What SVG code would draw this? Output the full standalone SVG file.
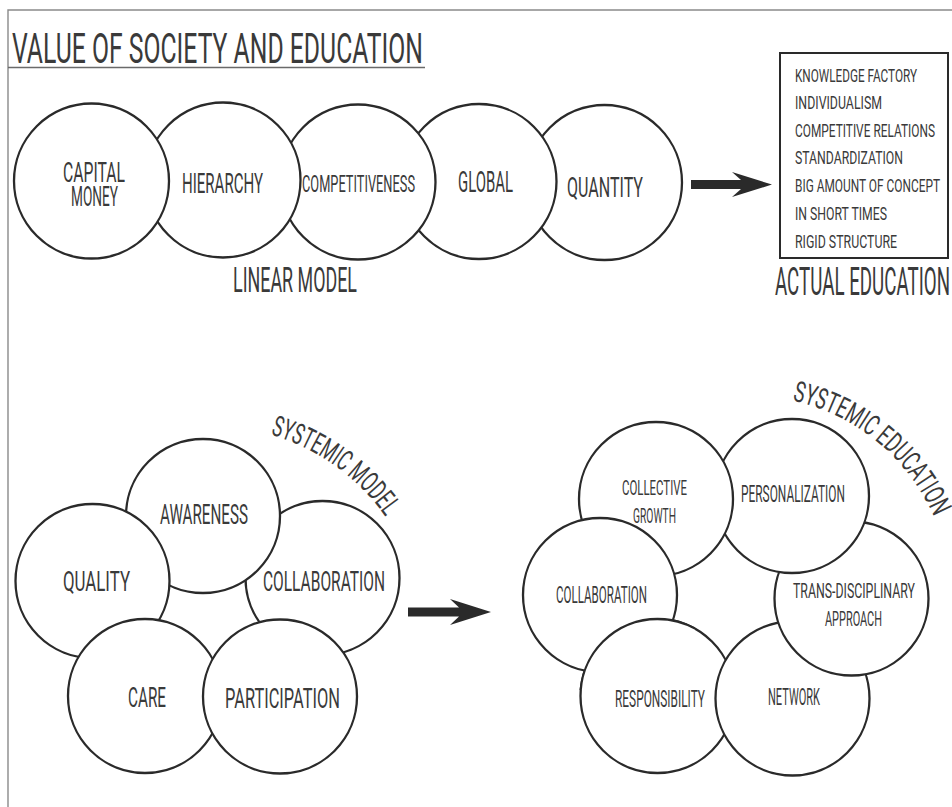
<svg xmlns="http://www.w3.org/2000/svg" xmlns:xlink="http://www.w3.org/1999/xlink" width="952" height="807" viewBox="0 0 952 807">
  <style>
    text { font-family: "Roboto", "Liberation Sans", "DejaVu Sans", sans-serif; font-weight: 400; fill: #3a3a3a; }
    .node { fill: #fff; stroke: #2a2a2a; stroke-width: 2.3; }
    .frame { fill: none; stroke: #8a8a8a; stroke-width: 1.4; }
    .box { fill: #fff; stroke: #2a2a2a; stroke-width: 2; }
    .arrow { fill: #2a2a2a; stroke: none; }
    .big { font-size: 28px; }
    .mid { font-size: 23px; }
    .small { font-size: 21px; }
    .list { font-size: 19px; }
    .caption { font-size: 35px; }
  </style>
  <defs>
    <path id="arcModel" d="M 256.1 431.1 A 212 212 0 0 1 399.2 539" fill="none"/>
    <path id="arcEdu" d="M 784.5 399.1 A 201 201 0 0 1 943.7 545" fill="none"/>
    <!-- area where responsibility lies over collaboration -->
    <clipPath id="clipRespOverCollab">
      <rect x="560" y="600" width="135" height="90"/>
    </clipPath>
  </defs>

  <rect x="0" y="0" width="952" height="807" fill="#fff"/>

  <!-- page frame: top and left rules -->
  <path class="frame" d="M 952 10 H 8 V 807"/>

  <!-- heading -->
  <g id="title">
    <text x="12" y="63" font-size="42" textLength="411" lengthAdjust="spacingAndGlyphs">VALUE OF SOCIETY AND EDUCATION</text>
    <line x1="8" y1="67.5" x2="425" y2="67.5" stroke="#6a6a6a" stroke-width="1.5"/>
  </g>

  <!-- linear model: each circle overlaps the one to its right -->
  <g id="linear-model">
    <g id="quantity">
      <circle class="node" cx="604.5" cy="182.5" r="77.5"/>
      <text class="big" x="567" y="197" textLength="76" lengthAdjust="spacingAndGlyphs">QUANTITY</text>
    </g>
    <g id="global">
      <circle class="node" cx="479" cy="181.5" r="77.5"/>
      <text x="458" y="192" font-size="30" textLength="55" lengthAdjust="spacingAndGlyphs">GLOBAL</text>
    </g>
    <g id="competitiveness">
      <circle class="node" cx="358" cy="182" r="77.5"/>
      <text class="mid" x="302" y="192" textLength="113" lengthAdjust="spacingAndGlyphs">COMPETITIVENESS</text>
    </g>
    <g id="hierarchy">
      <circle class="node" cx="223" cy="180" r="77.5"/>
      <text class="big" x="182" y="193" textLength="81" lengthAdjust="spacingAndGlyphs">HIERARCHY</text>
    </g>
    <g id="capital-money">
      <circle class="node" cx="91.5" cy="181" r="77.5"/>
      <text class="big" x="63" y="182" textLength="62" lengthAdjust="spacingAndGlyphs">CAPITAL</text>
      <text class="big" x="71" y="206" textLength="47" lengthAdjust="spacingAndGlyphs">MONEY</text>
    </g>
    <text id="linear-model-label" class="caption" x="233" y="292" textLength="124" lengthAdjust="spacingAndGlyphs">LINEAR MODEL</text>
  </g>

  <!-- actual education list -->
  <g id="actual-education">
    <rect class="box" x="780" y="53" width="168" height="205"/>
    <text class="list" x="795" y="82" textLength="122" lengthAdjust="spacingAndGlyphs">KNOWLEDGE FACTORY</text>
    <text class="list" x="795" y="109" textLength="87" lengthAdjust="spacingAndGlyphs">INDIVIDUALISM</text>
    <text class="list" x="795" y="137" textLength="140" lengthAdjust="spacingAndGlyphs">COMPETITIVE RELATIONS</text>
    <text class="list" x="795" y="164" textLength="108" lengthAdjust="spacingAndGlyphs">STANDARDIZATION</text>
    <text class="list" x="795" y="192" textLength="145" lengthAdjust="spacingAndGlyphs">BIG AMOUNT OF CONCEPT</text>
    <text class="list" x="795" y="220" textLength="92" lengthAdjust="spacingAndGlyphs">IN SHORT TIMES</text>
    <text class="list" x="795" y="248" textLength="102" lengthAdjust="spacingAndGlyphs">RIGID STRUCTURE</text>
    <text x="775" y="295" font-size="38" textLength="175" lengthAdjust="spacingAndGlyphs">ACTUAL EDUCATION</text>
  </g>

  <!-- systemic model ring -->
  <g id="systemic-model">
    <g id="sm-collaboration">
      <circle class="node" cx="322.5" cy="578" r="77"/>
      <text class="big" x="263" y="591" textLength="122" lengthAdjust="spacingAndGlyphs">COLLABORATION</text>
    </g>
    <g id="sm-awareness">
      <circle class="node" cx="203" cy="516" r="77"/>
      <text class="big" x="160" y="524" textLength="88" lengthAdjust="spacingAndGlyphs">AWARENESS</text>
    </g>
    <g id="sm-quality">
      <circle class="node" cx="92.5" cy="581" r="77"/>
      <text class="big" x="63" y="591" textLength="67" lengthAdjust="spacingAndGlyphs">QUALITY</text>
    </g>
    <g id="sm-care">
      <circle class="node" cx="145" cy="696" r="77"/>
      <text class="big" x="128" y="707" textLength="38" lengthAdjust="spacingAndGlyphs">CARE</text>
    </g>
    <g id="sm-participation">
      <circle class="node" cx="280" cy="696.5" r="77"/>
      <text class="big" x="225" y="708" textLength="115" lengthAdjust="spacingAndGlyphs">PARTICIPATION</text>
    </g>
    <text id="systemic-model-label" font-size="29" textLength="144" lengthAdjust="spacingAndGlyphs"><textPath xlink:href="#arcModel" href="#arcModel" startOffset="14.8">SYSTEMIC MODEL</textPath></text>
  </g>

  <!-- systemic education ring (circular overlap: responsibility re-drawn over collaboration) -->
  <g id="systemic-education">
    <g id="se-responsibility">
      <circle class="node" cx="657.5" cy="696" r="77"/>
      <text class="mid" x="615" y="707" textLength="90" lengthAdjust="spacingAndGlyphs">RESPONSIBILITY</text>
    </g>
    <g id="se-network">
      <circle class="node" cx="792.5" cy="698.5" r="77"/>
      <text class="mid" x="768" y="705" textLength="52" lengthAdjust="spacingAndGlyphs">NETWORK</text>
    </g>
    <g id="se-trans-disciplinary">
      <circle class="node" cx="851.5" cy="598.5" r="77"/>
      <text class="small" x="793" y="598" textLength="122" lengthAdjust="spacingAndGlyphs">TRANS-DISCIPLINARY</text>
      <text class="small" x="825" y="626" textLength="57" lengthAdjust="spacingAndGlyphs">APPROACH</text>
    </g>
    <g id="se-personalization">
      <circle class="node" cx="792" cy="496" r="77"/>
      <text class="mid" x="741" y="502" textLength="104" lengthAdjust="spacingAndGlyphs">PERSONALIZATION</text>
    </g>
    <g id="se-collective-growth">
      <circle class="node" cx="656" cy="499" r="77"/>
      <text class="small" x="622" y="495" textLength="65" lengthAdjust="spacingAndGlyphs">COLLECTIVE</text>
      <text class="small" x="633" y="523" textLength="43" lengthAdjust="spacingAndGlyphs">GROWTH</text>
    </g>
    <g id="se-collaboration">
      <circle class="node" cx="600" cy="595" r="77"/>
      <text class="mid" x="556" y="603" textLength="91" lengthAdjust="spacingAndGlyphs">COLLABORATION</text>
    </g>
    <circle class="node" cx="657.5" cy="696" r="77" clip-path="url(#clipRespOverCollab)"/>
    <text id="systemic-education-label" font-size="29" textLength="190" lengthAdjust="spacingAndGlyphs"><textPath xlink:href="#arcEdu" href="#arcEdu" startOffset="8">SYSTEMIC EDUCATION</textPath></text>
  </g>

  <!-- connectors -->
  <g id="connectors">
    <polygon class="arrow" points="691,180 741,180 732,172 772,184.5 732,197 741,189 691,189"/>
    <polygon class="arrow" points="408,607.5 459,607.5 450,599 491,612 450,625 459,616.5 408,616.5"/>
  </g>
</svg>
